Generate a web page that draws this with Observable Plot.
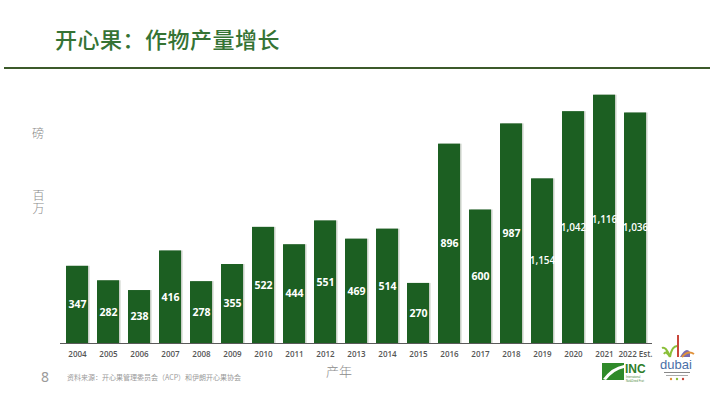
<!DOCTYPE html>
<html>
<head>
<meta charset="utf-8">
<script src="https://cdn.jsdelivr.net/npm/d3@7"></script>
<script src="https://cdn.jsdelivr.net/npm/@observablehq/plot@0.6"></script>
<style>
  body { margin: 0; background: #fff; }
  #wrap { position: relative; width: 710px; height: 399px; overflow: hidden; background: #fff; font-family: "Noto Sans CJK SC", "Noto Sans", sans-serif; }
  #wrap svg.plot { position: absolute; left: 0; top: 0; }
  .abs { position: absolute; white-space: nowrap; }
  #title { left: 55px; top: 22px; font-size: 22px; color: #357334; font-weight: 500; letter-spacing: 0.5px; }
  #hr { left: 4px; top: 67px; width: 706px; height: 2px; background: #3c5a2a; }
  .ylab { font-size: 12px; color: #8a8a8a; font-weight: 300; line-height: 12px; }
  #ywan { writing-mode: vertical-rl; letter-spacing: 1px; }
  #xlab { left: 326px; top: 361px; font-size: 13px; color: #8a8a8a; font-weight: 300; }
  #page { left: 41px; top: 367px; font-size: 14px; color: #9a9a9a; font-family: "Noto Sans", sans-serif; }
  #src { left: 67px; top: 372px; font-size: 7px; color: #9a9a9a; }
</style>
</head>
<body>
<div id="wrap">
  <div id="title" class="abs">开心果：作物产量增长</div>
  <div id="hr" class="abs"></div>
  <div class="abs ylab" style="left:32px;top:127px;">磅</div>
  <div id="ywan" class="abs ylab" style="left:32px;top:189px;">百万</div>
  <div id="xlab" class="abs">产年</div>
  <div id="page" class="abs">8</div>
  <div id="src" class="abs">资料来源：开心果管理委员会（ACP）和伊朗开心果协会</div>
  <svg class="abs" style="left:602px;top:361px;" width="56" height="22" viewBox="0 0 56 22">
    <rect x="0" y="2" width="22" height="17" fill="#2f8a2a"/>
    <path d="M1 18 Q10 6 22 4 L22 7 Q12 9 4 19 Z" fill="#fff"/>
    <text x="23" y="12" font-family="Liberation Sans, sans-serif" font-weight="bold" font-size="12" fill="#2e7d2a">INC</text>
    <text x="24" y="17" font-family="Liberation Sans, sans-serif" font-size="2.6" fill="#4a8a3a">International</text>
    <text x="24" y="21" font-family="Liberation Sans, sans-serif" font-size="2.6" fill="#4a8a3a">Nut&amp;Dried Fruit</text>
  </svg>
  <svg class="abs" style="left:660px;top:332px;" width="36" height="50" viewBox="0 0 36 50">
    <path d="M10 25 Q6 14 2 16 M10 25 Q12 13 18 14 M10 25 Q6 18 4 22" stroke="#8bbf3a" stroke-width="2" fill="none"/>
    <rect x="17" y="3" width="2" height="22" fill="#c9463a"/>
    <path d="M20 25 Q26 14 30 20 L30 25 Z" fill="#7a6ab0"/>
    <path d="M22 25 Q28 18 34 22" stroke="#e0913a" stroke-width="2" fill="none"/>
    <text x="0" y="37" font-family="Liberation Sans, sans-serif" font-size="13" fill="#4a6fa8">dubai</text>
    <rect x="4" y="40" width="26" height="1" fill="#888"/>
    <rect x="6" y="43" width="22" height="1" fill="#aaa"/>
    <circle cx="11" cy="47" r="1.2" fill="#e0913a"/><circle cx="17" cy="47" r="1.2" fill="#8bbf3a"/><circle cx="23" cy="47" r="1.2" fill="#c9463a"/>
  </svg>
</div>
<script>
const years = ["2004","2005","2006","2007","2008","2009","2010","2011","2012","2013","2014","2015","2016","2017","2018","2019","2020","2021","2022 Est."];
const values = [347, 282, 238, 416, 278, 355, 522, 444, 551, 469, 514, 270, 896, 600, 987, 740, 1042, 1116, 1036];
const labels = ["347","282","238","416","278","355","522","444","551","469","514","270","896","600","987","1,154","1,042","1,116","1,036"];

const data = years.map((y, i) => ({year: y, value: values[i], label: labels[i]}));
const shortLab = data.filter(d => d.label.length <= 3);
const longLab = data.filter(d => d.label.length > 3);

const chart = Plot.plot({
  width: 710,
  height: 399,
  marginLeft: 60,
  marginRight: 58,
  marginTop: 76,
  marginBottom: 56,
  style: {background: "transparent", fontFamily: "'Open Sans', 'Noto Sans', sans-serif"},
  x: {domain: years, paddingInner: 0.29, paddingOuter: 0.13, label: null},
  y: {domain: [0, 1200], axis: null},
  marks: [
    Plot.barY(data, {x: "year", y: "value", fill: "#c8cfc6", dx: 1.5}),
    Plot.barY(data, {x: "year", y: "value", fill: "#1c5f22"}),
    Plot.ruleY([0], {stroke: "#5a5a5a", strokeWidth: 1}),
    Plot.text(shortLab, {x: "year", y: d => d.value / 2, text: "label", fill: "#ffffff", fontSize: 10.5, fontWeight: "bold"}),
    Plot.text(longLab, {x: "year", y: d => d.value / 2, text: "label", fill: "#ffffff", fontSize: 10, fontWeight: "600"}),
    Plot.axisX({tickSize: 0, tickPadding: 8, fontSize: 8, fill: "#555", fontWeight: "600"})
  ]
});
chart.classList.add("plot");
document.getElementById("wrap").appendChild(chart);
</script>
</body>
</html>
